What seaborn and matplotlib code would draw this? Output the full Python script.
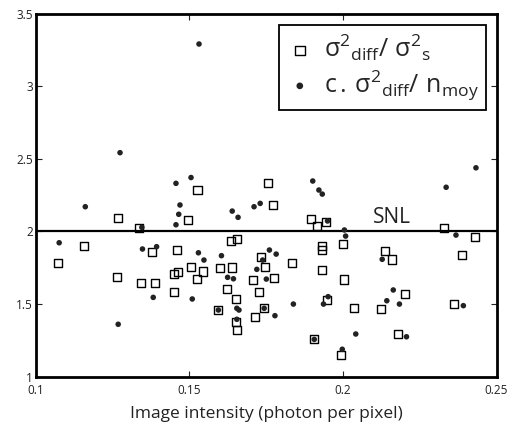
import matplotlib
matplotlib.use('Agg')
import matplotlib.pyplot as plt
import seaborn as sns
import pandas as pd

# sigma^2_diff / sigma^2_s  (open squares)
ratio_x = [0.1073, 0.1158, 0.1264, 0.1269, 0.1338, 0.1343, 0.1379, 0.1390, 0.1452, 0.1465,
           0.1460, 0.1452, 0.1497, 0.1505, 0.1527, 0.1544, 0.1525, 0.1600, 0.1640, 0.1635,
           0.1655, 0.1622, 0.1707, 0.1727, 0.1734, 0.1746, 0.1756, 0.1774, 0.1777, 0.1651,
           0.1595, 0.1744, 0.1714, 0.1651, 0.1657, 0.1835, 0.1897, 0.1915, 0.1945, 0.2000,
           0.1931, 0.1931, 0.1932, 0.2004, 0.1948, 0.1907, 0.1993, 0.2036, 0.2123, 0.2137,
           0.2159, 0.2202, 0.2180, 0.2330, 0.2429, 0.2387, 0.2363]
ratio_y = [1.780, 1.902, 1.688, 2.090, 2.025, 1.647, 1.856, 1.643, 1.705, 1.723,
           1.872, 1.585, 2.078, 1.757, 2.285, 1.724, 1.674, 1.750, 1.752, 1.936,
           1.948, 1.602, 1.666, 1.581, 1.826, 1.757, 2.331, 2.182, 1.681, 1.533,
           1.459, 1.471, 1.409, 1.379, 1.321, 1.785, 2.083, 2.037, 2.065, 1.911,
           1.900, 1.872, 1.732, 1.669, 1.528, 1.257, 1.147, 1.471, 1.464, 1.865,
           1.807, 1.567, 1.294, 2.025, 1.959, 1.838, 1.498]

# c . sigma^2_diff / n_moy  (dots)
norm_x = [0.1275, 0.1457, 0.1506, 0.1162, 0.1470, 0.1466, 0.1457, 0.1346, 0.1077, 0.1348,
          0.1394, 0.1383, 0.1269, 0.1532, 0.1902, 0.1922, 0.1933, 0.1640, 0.1659, 0.1711,
          0.1731, 0.1950, 0.2005, 0.2009, 0.1530, 0.1548, 0.1605, 0.1761, 0.1783, 0.1739,
          0.1720, 0.1625, 0.1644, 0.1751, 0.1510, 0.1595, 0.1655, 0.1662, 0.1744, 0.1779,
          0.1655, 0.1839, 0.1952, 0.1937, 0.1907, 0.1998, 0.2433, 0.2336, 0.2368, 0.2128,
          0.2164, 0.2143, 0.2184, 0.2392, 0.2042, 0.2207]
norm_y = [2.542, 2.331, 2.371, 2.170, 2.182, 2.118, 2.046, 2.028, 1.922, 1.879,
          1.895, 1.546, 1.361, 3.290, 2.347, 2.285, 2.257, 2.140, 2.097, 2.170,
          2.193, 2.072, 2.010, 1.968, 1.853, 1.803, 1.833, 1.872, 1.844, 1.803,
          1.739, 1.684, 1.674, 1.672, 1.535, 1.459, 1.471, 1.459, 1.471, 1.420,
          1.395, 1.500, 1.551, 1.500, 1.257, 1.189, 2.438, 2.304, 1.975, 1.808,
          1.597, 1.523, 1.500, 1.489, 1.294, 1.275]

snl_level = 2.0
x_ticks = [0.1, 0.15, 0.2, 0.25]
x_tick_labels = ['0.1', '0.15', '0.2', '0.25']
y_ticks = [1, 1.5, 2, 2.5, 3, 3.5]
y_tick_labels = ['1', '1.5', '2', '2.5', '3', '3.5']

df_ratio = pd.DataFrame({'x': ratio_x, 'y': ratio_y})
df_norm = pd.DataFrame({'x': norm_x, 'y': norm_y})

sns.set_style('ticks')
plt.rcParams['font.family'] = ['Open Sans', 'DejaVu Sans']
plt.rcParams['mathtext.fontset'] = 'custom'
plt.rcParams['mathtext.rm'] = 'Open Sans'
plt.rcParams['mathtext.it'] = 'Open Sans'
plt.rcParams['mathtext.bf'] = 'Open Sans'

fig = plt.figure(figsize=(5.26, 4.26), dpi=100)
ax = fig.add_axes([0.0675, 0.1157, 0.8765, 0.8526])

sns.scatterplot(data=df_ratio, x='x', y='y', ax=ax, marker='s', s=34,
                facecolor='none', edgecolor='black', linewidth=1.0,
                label=r'$\mathrm{σ}^{2}{}_{\mathrm{diff}}/\ \mathrm{σ}^{2}{}_{\mathrm{s}}$', zorder=3)
sns.scatterplot(data=df_norm, x='x', y='y', ax=ax, marker='o', s=16,
                color='#222222', edgecolor='none',
                label=r'$\mathrm{c}\,.\,\mathrm{σ}^{2}{}_{\mathrm{diff}}/\ \mathrm{n}_{\mathrm{moy}}$', zorder=4)

ax.axhline(snl_level, color='black', lw=1.6, zorder=2)
ax.text(0.2098, 2.058, 'SNL', fontsize=15, color='#222222', va='baseline', ha='left')

ax.set_xlim(0.1, 0.25)
ax.set_ylim(1, 3.5)
ax.set_xticks(x_ticks)
ax.set_xticklabels(x_tick_labels)
ax.set_yticks(y_ticks)
ax.set_yticklabels(y_tick_labels)
ax.tick_params(direction='in', length=4, width=0.8, top=True, right=True,
               labelsize=8.5, pad=2, colors='#222222')
ax.tick_params(axis='x', pad=5)
for sp in ax.spines.values():
    sp.set_linewidth(2)
    sp.set_color('black')
    sp.set_visible(True)

ax.set_xlabel('Image intensity (photon per pixel)', fontsize=12.5, color='#222222', labelpad=7)
ax.set_ylabel('')

leg = ax.legend(loc='upper right', bbox_to_anchor=(0.977, 0.968), fontsize=18,
                frameon=True, fancybox=False, edgecolor='black', framealpha=1,
                handletextpad=0.4, labelspacing=0.2, borderpad=0.3, borderaxespad=0,
                handlelength=1.1, markerscale=1.2)
leg.get_frame().set_linewidth(1.3)

fig.savefig('out.png', dpi=100)
